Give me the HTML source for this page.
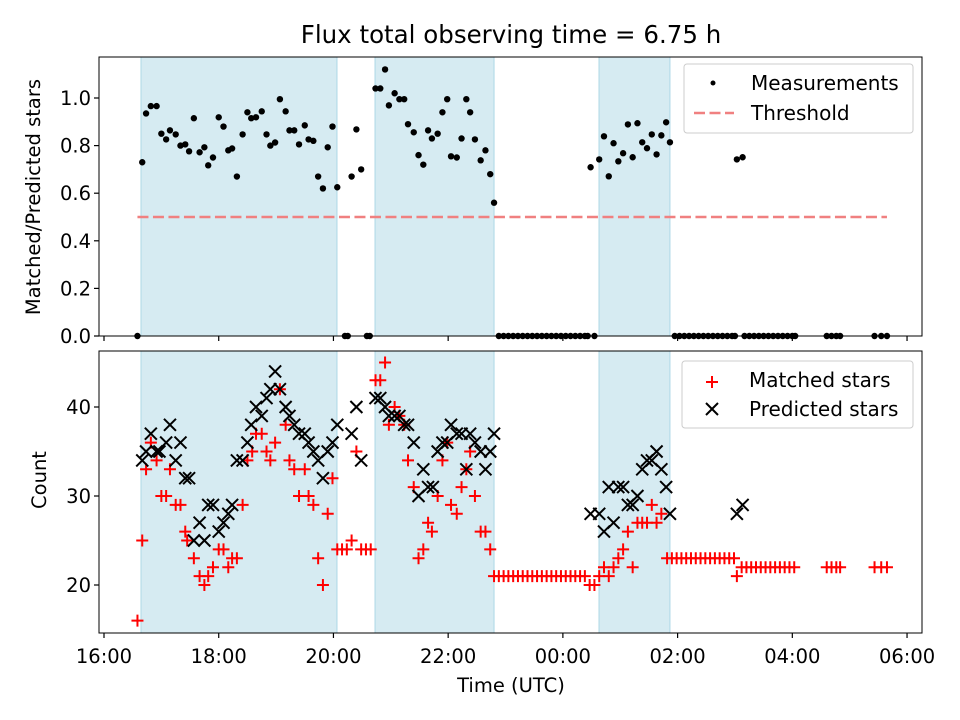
<!DOCTYPE html>
<html><head><meta charset="utf-8"><style>
body{margin:0;background:#fff}
svg{display:block;font-family:"DejaVu Sans","Liberation Sans",sans-serif}
</style></head><body>
<svg id="c" width="960" height="720"></svg>
<script>
const measT=[40,44,49,55,60,65,69,75,80,85,89,94,100,105,109,114,120,125,130,134,139,145,150,154,159,165,170,174,179,184,190,194,199,204,210,214,219,224,229,234,239,244,259,264,269,284,289,294,298,304,309,314,318,324,329,334,339,343,349,354,359,363,369,374,379,383,388,394,399,404,408,509,518,523,528,533,538,543,548,553,558,563,568,573,578,583,588,592,662,668];
const measV=[0.73,0.935,0.966,0.966,0.85,0.826,0.864,0.847,0.80,0.805,0.776,0.915,0.772,0.793,0.717,0.75,0.919,0.88,0.78,0.788,0.67,0.847,0.94,0.915,0.919,0.944,0.847,0.80,0.813,0.995,0.944,0.864,0.864,0.805,0.885,0.826,0.82,0.67,0.62,0.793,0.88,0.625,0.67,0.868,0.70,1.04,1.04,1.12,0.969,1.02,0.995,0.995,0.89,0.856,0.76,0.72,0.864,0.83,0.85,0.94,0.995,0.755,0.75,0.83,0.995,0.94,0.826,0.738,0.78,0.68,0.56,0.709,0.742,0.839,0.671,0.81,0.734,0.768,0.889,0.751,0.894,0.814,0.789,0.847,0.763,0.843,0.898,0.814,0.742,0.751];
const zeroT=[35,252,255,275,278,413,418,423,428,433,438,443,448,453,458,463,468,473,478,483,488,493,498,503,506,513,597,602,607,612,617,622,627,632,637,642,647,652,657,660,670,675,680,685,690,695,700,705,710,715,720,723,756,761,766,770,806,813,819];
const matchT=[35,40,44,49,55,60,65,69,75,80,85,87,94,100,105,109,114,120,125,130,134,139,145,150,155,159,165,170,174,179,184,190,194,199,204,210,214,219,224,229,234,239,244,249,254,259,264,269,274,279,284,289,294,298,304,309,314,318,324,329,334,339,343,349,354,359,363,369,374,379,383,388,394,399,404,408,413,418,423,428,433,438,443,448,453,458,463,468,473,478,483,488,493,498,503,508,513,518,523,528,533,538,543,548,553,558,563,568,573,578,583,589,594,599,604,609,614,619,624,629,634,639,644,649,654,659,662,667,672,677,682,687,692,697,702,707,712,717,722,756,761,766,770,806,813,819];
const matchV=[16,25,33,36,34,30,30,33,29,29,26,25,23,21,20,21,22,24,24,22,23,23,29,34,35,37,37,35,34,36,42,38,34,33,30,33,30,29,23,20,28,32,24,24,24,25,35,24,24,24,43,43,45,38,40,39,38,34,31,23,24,27,26,30,34,36,29,28,31,33,35,30,26,26,24,21,21,21,21,21,21,21,21,21,21,21,21,21,21,21,21,21,21,21,21,20,20,21,22,21,22,23,24,26,22,27,27,27,29,27,28,23,23,23,23,23,23,23,23,23,23,23,23,23,23,23,21,22,22,22,22,22,22,22,22,22,22,22,22,22,22,22,22,22,22,22];
const predT=[40,44,49,55,58,65,69,75,80,85,89,94,100,105,109,114,120,125,130,134,139,145,150,154,159,165,170,174,179,184,190,194,199,204,210,214,219,224,229,234,239,244,259,264,269,284,289,294,298,304,309,314,318,324,329,334,339,344,349,354,359,363,369,374,379,383,388,394,399,404,408,509,518,523,528,533,538,543,548,553,558,563,568,573,578,583,588,592,662,668];
const predV=[34,35,37,35,35,36,38,34,36,32,32,25,27,25,29,29,26,27,28,29,34,34,36,38,40,39,41,42,44,42,40,39,38,37,37,36,35,34,32,35,36,38,37,40,34,41,41,40,39,39,39,38,38,36,30,33,31,31,35,36,36,38,37,37,33,37,36,35,33,35,37,28,28,26,31,27,31,31,29,29,30,33,34,34,35,33,31,28,28,29];
const spans=[[38.7,243.7],[283.5,408],[517.8,592]];
const threshold=0.5, thrStart=35, thrEnd=819;
const xTicks=[0,120,240,360,480,600,720,840];
const xTickLabels=["16:00","18:00","20:00","22:00","00:00","02:00","04:00","06:00"];
const topTicks=[0,0.2,0.4,0.6,0.8,1.0];
const botTicks=[20,30,40];

const L=99,R=922,T1=57,B1=336,T2=351,B2=633;
const X=m=>104+m*0.956;
const Y1=v=>336-v*238;
const Y2=v=>585-(v-20)*8.9;
const svg=document.getElementById('c');
const NS='http://www.w3.org/2000/svg';
function mk(tag,at,parent){const e=document.createElementNS(NS,tag);for(const k in at)e.setAttribute(k,at[k]);(parent||svg).appendChild(e);return e;}

for(const [a,b] of spans){
  for(const [t,bt] of [[T1,B1],[T2,B2]]){
    const r=mk('rect',{x:X(a),y:t,width:X(b)-X(a),height:bt-t,fill:'#add8e6','fill-opacity':0.5,stroke:'#add8e6'});
    
    
  }
}
const th=mk('line',{x1:X(thrStart),x2:X(thrEnd),y1:Y1(threshold),y2:Y1(threshold),stroke:'#f08080','stroke-width':2.5,'stroke-dasharray':'11,4.5'});


measT.forEach((t,i)=>{const c=mk('circle',{cx:X(t),cy:Y1(measV[i]),r:3.2,fill:'#000'});

});
zeroT.forEach(t=>{const c=mk('circle',{cx:X(t),cy:Y1(0),r:3.2,fill:'#000'});

});
matchT.forEach((t,i)=>{const x=X(t),y=Y2(matchV[i]);
const p=mk('path',{d:`M${x-6},${y}H${x+6}M${x},${y-6}V${y+6}`,stroke:'#f00','stroke-width':2});

});
predT.forEach((t,i)=>{const x=X(t),y=Y2(predV[i]);
const p=mk('path',{d:`M${x-6},${y-6}L${x+6},${y+6}M${x-6},${y+6}L${x+6},${y-6}`,stroke:'#000','stroke-width':2});

});
for(const [t,b,nm] of [[T1,B1,'top-axes-frame'],[T2,B2,'bottom-axes-frame']]){
  const r=mk('rect',{x:L,y:t,width:R-L,height:b-t,fill:'none',stroke:'#000','stroke-width':1});
  
  
}
xTicks.forEach((m,i)=>{const x=X(m);
mk('line',{x1:x,x2:x,y1:B1,y2:B1+5,stroke:'#000','stroke-width':1.2});
mk('line',{x1:x,x2:x,y1:B2,y2:B2+5,stroke:'#000','stroke-width':1.2});
const tx=mk('text',{x:x,y:B2+30,'text-anchor':'middle','font-size':19.5});tx.textContent=xTickLabels[i];

});
topTicks.forEach(v=>{const y=Y1(v);mk('line',{x1:L-5,x2:L,y1:y,y2:y,stroke:'#000','stroke-width':1.2});
const tx=mk('text',{x:L-8,y:y+7,'text-anchor':'end','font-size':19.5});tx.textContent=v.toFixed(1);

});
botTicks.forEach(v=>{const y=Y2(v);mk('line',{x1:L-5,x2:L,y1:y,y2:y,stroke:'#000','stroke-width':1.2});
const tx=mk('text',{x:L-8,y:y+7,'text-anchor':'end','font-size':19.5});tx.textContent=v;

});
</script>
<svg width="960" height="720" style="position:absolute;left:0;top:0">
<text x="511" y="43" text-anchor="middle" font-size="24.5" font-family="DejaVu Sans,Liberation Sans,sans-serif">Flux total observing time = 6.75 h</text>
<text transform="translate(40,197) rotate(-90)" text-anchor="middle" font-size="19.5" font-family="DejaVu Sans,Liberation Sans,sans-serif">Matched/Predicted stars</text>
<text transform="translate(46,480) rotate(-90)" text-anchor="middle" font-size="19.5" font-family="DejaVu Sans,Liberation Sans,sans-serif">Count</text>
<text x="511" y="692" text-anchor="middle" font-size="19.5" font-family="DejaVu Sans,Liberation Sans,sans-serif">Time (UTC)</text>
<g font-family="DejaVu Sans,Liberation Sans,sans-serif" font-size="20">
<rect x="684" y="64" width="229" height="69" rx="3" fill="#fff" fill-opacity="0.8" stroke="#ccc"/>
<circle cx="713" cy="83" r="2.5" fill="#000"/>
<text x="751" y="90">Measurements</text>
<line x1="694" x2="734" y1="113" y2="113" stroke="#f08080" stroke-width="2.5" stroke-dasharray="11,4.5"/>
<text x="751" y="120">Threshold</text>
</g>
<g font-family="DejaVu Sans,Liberation Sans,sans-serif" font-size="20">
<rect x="682" y="361" width="231" height="67" rx="3" fill="#fff" fill-opacity="0.8" stroke="#ccc"/>
<path d="M706,382H718M712,376V388" stroke="#f00" stroke-width="2"/>
<text x="749" y="387">Matched stars</text>
<path d="M706,403L718,415M706,415L718,403" stroke="#000" stroke-width="2"/>
<text x="749" y="416">Predicted stars</text>
</g>
</svg>
</body></html>
